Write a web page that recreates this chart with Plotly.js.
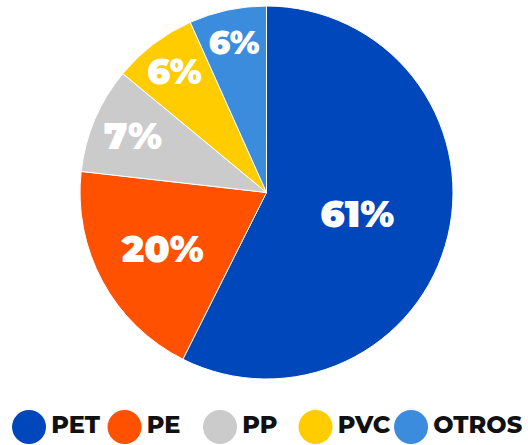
<!DOCTYPE html>
<html>
<head>
<meta charset="utf-8">
<script src="https://cdn.plot.ly/plotly-3.0.1.min.js"></script>
<style>html,body{margin:0;padding:0;background:#fff}</style>
</head>
<body>
<div id="chart" style="width:528px;height:445px"></div>
<script>
var labels = ["PET", "PE", "PP", "PVC", "OTROS"];
var shares = [57.4, 19.4, 9.2, 7.3, 6.7];
var pctText = ["61%", "20%", "7%", "6%", "6%"];
var colors = ["#0047BB", "#FF5100", "#CBCBCB", "#FFCC00", "#3B8CDD"];

var fontFam = "Montserrat, Lato, 'Open Sans', sans-serif";

var pie = {
  type: "pie",
  values: shares,
  labels: labels,
  text: pctText,
  textinfo: "text",
  textposition: "inside",
  insidetextorientation: "horizontal",
  sort: false,
  direction: "clockwise",
  rotation: 0,
  marker: { colors: colors, line: { color: "#fff", width: 1 } },
  textfont: { color: "#fff", size: 37, family: fontFam, weight: 900 },
  domain: { x: [80 / 528, 453 / 528], y: [1 - 379 / 445, 1 - 6 / 445] },
  showlegend: false,
  hoverinfo: "label+percent"
};

// big round legend made from a scatter on hidden axes
var legendRow = {
  type: "scatter",
  mode: "markers+text",
  x: labels,
  y: labels.map(function () { return 0; }),
  text: labels,
  textposition: "middle right",
  marker: { size: 34, color: colors },
  textfont: { color: "#111", size: 24, family: fontFam, weight: 800 },
  showlegend: false,
  hoverinfo: "skip",
  cliponaxis: false
};

var layout = {
  width: 528,
  height: 445,
  margin: { l: 0, r: 0, t: 0, b: 0 },
  paper_bgcolor: "#fff",
  plot_bgcolor: "rgba(0,0,0,0)",
  showlegend: false,
  xaxis: { visible: false, range: [-0.304, 5.225], domain: [0, 1], fixedrange: true },
  yaxis: { visible: false, range: [-1, 1], domain: [0, 0.0809], fixedrange: true }
};

Plotly.newPlot("chart", [pie, legendRow], layout, { displayModeBar: false, staticPlot: true });
</script>
</body>
</html>
